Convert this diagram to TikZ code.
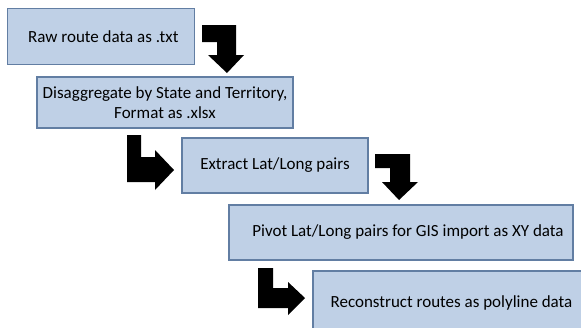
\documentclass[tikz,border=0pt]{standalone}
\usepackage{fontspec}
\setmainfont{Carlito}
\definecolor{boxfill}{HTML}{BFD0E6}
\definecolor{boxline}{HTML}{627EA3}
\begin{document}
\begin{tikzpicture}[x=1pt,y=-1pt,
  stepbox/.style={draw=boxline, fill=boxfill, line width=1.5pt, inner sep=0pt,
    font=\fontsize{17}{20.5}\selectfont, align=center},
  bentarrow/.style={fill=black, draw=none}]
\useasboundingbox (0,0) rectangle (581,327);
\begin{scope}
\clip (0,0) rectangle (581,327);
\node[stepbox, minimum width=187pt, minimum height=56pt] (b1) at (100.8,36.3) {\hspace*{5pt}Raw route data as .txt};
\node[stepbox, minimum width=256pt, minimum height=51pt] (b2) at (165,102.5) {Disaggregate by State and Territory,\\Format as .xlsx};
\node[stepbox, minimum width=186pt, minimum height=55pt] (b3) at (275,165.5) {Extract Lat/Long pairs};
\node[stepbox, minimum width=344pt, minimum height=55pt] (b4) at (401,232.5) {\hspace*{14pt}Pivot Lat/Long pairs for GIS import as XY data};
\node[stepbox, minimum width=277pt, minimum height=64pt] (b5) at (451.5,303) {Reconstruct routes as polyline data};
\end{scope}
% bent arrows
\fill[bentarrow] (202,25) -- (236,25) -- (236,55) -- (244,55) -- (227,73) -- (208,55) -- (217,55) -- (217,42) -- (202,42) -- cycle;
\fill[bentarrow] (127,135) -- (141,135) -- (141,157) -- (155,157) -- (155,150) -- (174,170) -- (155,190) -- (155,182) -- (127,182) -- cycle;
\fill[bentarrow] (375,154) -- (410,154) -- (410,182) -- (418,182) -- (399,200) -- (382,182) -- (390,182) -- (390,168) -- (375,168) -- cycle;
\fill[bentarrow] (258,268) -- (273,268) -- (273,288) -- (288,288) -- (288,282) -- (305,298) -- (288,315) -- (288,308) -- (258,308) -- cycle;
\end{tikzpicture}
\end{document}
